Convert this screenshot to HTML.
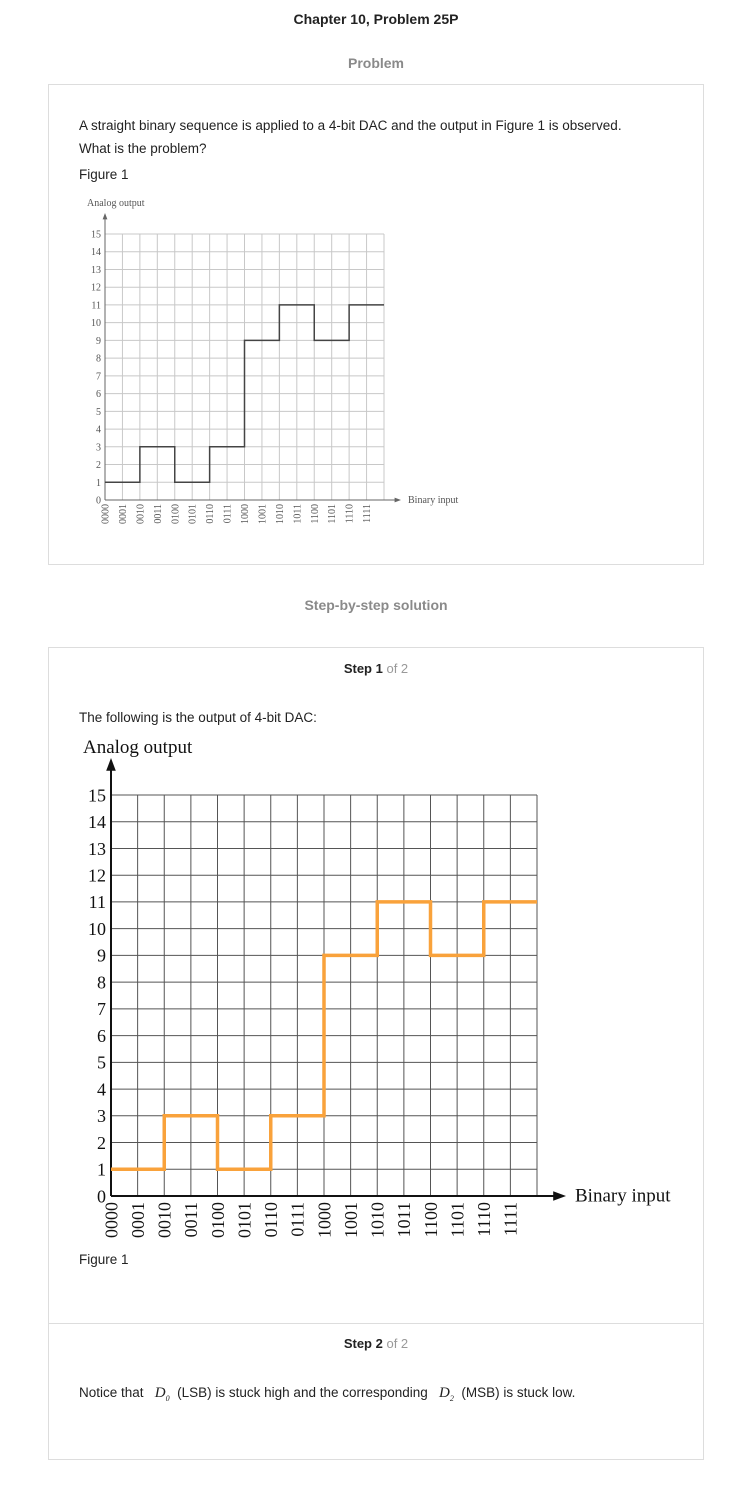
<!DOCTYPE html>
<html><head><meta charset="utf-8">
<style>
body{margin:0;width:752px;height:1486px;background:#fff;font-family:"Liberation Sans",Arial,sans-serif;color:#222;position:relative;overflow:hidden}
.abs{position:absolute}
.box{position:absolute;left:48px;width:654px;border:1px solid #ddd;background:#fff}
.t{font-size:13.5px;color:#222}
</style></head><body>
<div class="abs" style="left:0;width:752px;top:11px;text-align:center;font-weight:bold;font-size:14px;">Chapter 10, Problem 25P</div>
<div class="abs" style="left:0;width:752px;top:55px;text-align:center;font-weight:bold;font-size:14px;color:#8a8a8a">Problem</div>
<div class="box" style="top:84px;height:479px"></div>
<div class="abs t" style="left:79px;top:114px;line-height:23px;width:572px">A straight binary sequence is applied to a 4-bit DAC and the output in Figure 1 is observed.<br>What is the problem?</div>
<div class="abs t" style="left:79px;top:167px">Figure 1</div>
<svg id="c1" class="abs" style="left:0;top:0" width="752" height="600"></svg>
<div class="abs" style="left:0;width:752px;top:597px;text-align:center;font-weight:bold;font-size:14px;color:#8a8a8a">Step-by-step solution</div>
<div class="box" style="top:647px;height:811px"></div>
<div class="abs" style="left:49px;width:654px;top:1323px;height:1px;background:#ddd"></div>
<div class="abs" style="left:0;width:752px;top:661px;text-align:center;font-size:13px"><b>Step 1</b> <span style="color:#999">of 2</span></div>
<div class="abs t" style="left:79px;top:710px">The following is the output of 4-bit DAC:</div>
<svg id="c2" class="abs" style="left:0;top:700px" width="752" height="560"></svg>
<div class="abs t" style="left:79px;top:1252px">Figure 1</div>
<div class="abs" style="left:0;width:752px;top:1336px;text-align:center;font-size:13px"><b>Step 2</b> <span style="color:#999">of 2</span></div>
<div class="abs t" style="left:79px;top:1385px">Notice that &nbsp;&nbsp;<i style="font-family:'Liberation Serif',serif;font-size:15px">D<sub style="font-size:8px">0</sub></i>&nbsp; (LSB) is stuck high and the corresponding &nbsp;&nbsp;<i style="font-family:'Liberation Serif',serif;font-size:15px">D<sub style="font-size:8px">2</sub></i>&nbsp; (MSB) is stuck low.</div>
<script>
const categories=["0000","0001","0010","0011","0100","0101","0110","0111","1000","1001","1010","1011","1100","1101","1110","1111"];
const outputValues=[1,1,3,3,1,1,3,3,9,9,11,11,9,9,11,11];
const yTicks=[0,1,2,3,4,5,6,7,8,9,10,11,12,13,14,15];
const NS="http://www.w3.org/2000/svg";
function mk(svg,tag,attrs,name){const e=document.createElementNS(NS,tag);for(const k in attrs)e.setAttribute(k,attrs[k]);


svg.appendChild(e);return e;}
function draw(svg,o){
  const x=i=>o.x0+i*(o.x1-o.x0)/categories.length;
  const y=v=>o.y0-v*(o.y0-o.y15)/15;
  for(let i=1;i<=categories.length;i++)mk(svg,'line',{x1:x(i),x2:x(i),y1:y(15),y2:y(0),stroke:o.grid,'stroke-width':1},'grid-line-x');
  for(const v of yTicks){if(v>0)mk(svg,'line',{x1:x(0),x2:x(16),y1:y(v),y2:y(v),stroke:o.grid,'stroke-width':1},'grid-line-y');
    const t=mk(svg,'text',{x:x(0)-o.lg,y:y(v)+o.fs*0.35,'text-anchor':'end','font-size':o.fs,'font-family':'Liberation Serif,serif',fill:o.txt},'y-tick-label');t.textContent=v;}
  categories.forEach((c,i)=>{const t=mk(svg,'text',{transform:`translate(${x(i)+o.fs*0.35},${y(0)+o.xg}) rotate(-90)`,'text-anchor':'end','font-size':o.fs,'font-family':'Liberation Serif,serif',fill:o.txt},'x-tick-label');t.textContent=c;});
  mk(svg,'line',{x1:x(0),x2:x(0),y1:y(0),y2:o.ytop+4,stroke:o.axis,'stroke-width':o.aw},'y-axis');
  mk(svg,'path',{d:`M${x(0)-o.ah*0.6},${o.ytop+o.ah*1.6} L${x(0)},${o.ytop} L${x(0)+o.ah*0.6},${o.ytop+o.ah*1.6}Z`,fill:o.axis},'y-axis-arrow');
  mk(svg,'line',{x1:x(0),x2:o.xend-4,y1:y(0),y2:y(0),stroke:o.axis,'stroke-width':o.aw},'x-axis');
  mk(svg,'path',{d:`M${o.xend-o.ah*1.6},${y(0)-o.ah*0.6} L${o.xend},${y(0)} L${o.xend-o.ah*1.6},${y(0)+o.ah*0.6}Z`,fill:o.axis},'x-axis-arrow');
  let d='';outputValues.forEach((v,i)=>{d+=(i?'L':'M')+x(i)+','+y(v)+' L'+x(i+1)+','+y(v)+' ';});
  mk(svg,'path',{d:d,fill:'none',stroke:o.line,'stroke-width':o.lw},'output-step-line');
  let t=mk(svg,'text',{x:o.ytitleX,y:o.ytitleY,'font-size':o.tfs,'font-family':'Liberation Serif,serif',fill:o.txt},'y-axis-title');t.textContent='Analog output';
  t=mk(svg,'text',{x:o.xend+o.xtGap,y:y(0)+o.tfs*0.3,'font-size':o.tfs,'font-family':'Liberation Serif,serif',fill:o.txt},'x-axis-title');t.textContent='Binary input';
}
draw(document.getElementById('c1'),{x0:105,x1:384,y0:500,y15:234,grid:'#c8c8c8',axis:'#666',aw:1,ah:4,ytop:213,xend:401,line:'#444',lw:1.5,fs:10,tfs:10,txt:'#555',ytitleX:87,ytitleY:206,xtGap:7,lg:4,xg:4});
draw(document.getElementById('c2'),{x0:111,x1:537,y0:496,y15:95,grid:'#555',axis:'#111',aw:2,ah:8,ytop:58,xend:566,line:'#f9a23b',lw:3.5,fs:18,tfs:19,txt:'#111',ytitleX:83,ytitleY:53,xtGap:9,lg:5,xg:6});
</script>
</body></html>
